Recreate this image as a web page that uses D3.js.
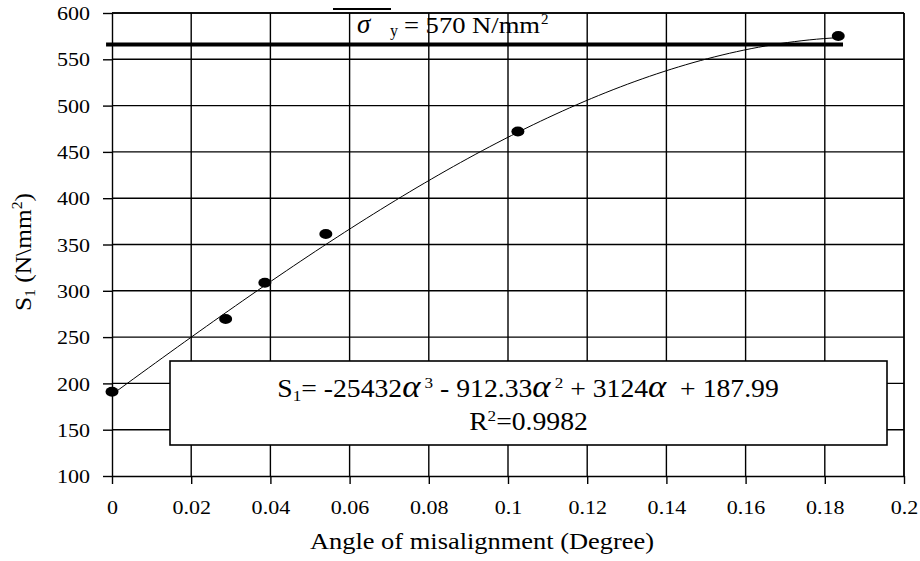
<!DOCTYPE html>
<html>
<head>
<meta charset="utf-8">
<script src="https://cdn.jsdelivr.net/npm/d3@7"></script>
<style>
  html, body { margin: 0; padding: 0; background: #fff; }
  svg { display: block; }
  text { font-family: "Liberation Serif", "Times New Roman", serif; fill: #000; }
</style>
</head>
<body>
<svg id="chart" width="920" height="561"></svg>
<script>
// ---- data ----
const angle  = [0, 0.0287, 0.0386, 0.054, 0.1025, 0.1834];
const stress = [191, 269.5, 308.7, 361.3, 472, 575.2];
// trendline coefficients c0 + c1*a + c2*a^2 + c3*a^3 (as printed on chart)
const trendCoef = [187.99, 3124, -912.33, -25432];
const xTicks = [0, 0.02, 0.04, 0.06, 0.08, 0.1, 0.12, 0.14, 0.16, 0.18, 0.2];
const xTickLabels = ["0", "0.02", "0.04", "0.06", "0.08", "0.1", "0.12", "0.14", "0.16", "0.18", "0.2"];
const yTicks = [100, 150, 200, 250, 300, 350, 400, 450, 500, 550, 600];
const yTickLabels = ["100", "150", "200", "250", "300", "350", "400", "450", "500", "550", "600"];
const yieldValue = 566;          // drawn position of yield line
const yieldExtent = [-0.0015, 0.1846];
const xTitle = "Angle of misalignment (Degree)";

// ---- layout ----
const L = 112, R = 904, T = 13, B = 476;
const svg = d3.select("#chart");
svg.append("rect").attr("width", 920).attr("height", 561).attr("fill", "#fff");

const x = d3.scaleLinear().domain([0, 0.2]).range([L, R]);
const y = d3.scaleLinear().domain([100, 600]).range([B, T]);

const SX = 1.13;
const TICK_FS = 19.5;

// gridlines
const grid = svg.append("g").attr("stroke", "#000").attr("stroke-width", 1.4);
grid.selectAll(".hg").data(yTicks.slice(1)).join("line")
  .attr("x1", L).attr("x2", R).attr("y1", d => y(d)).attr("y2", d => y(d));
grid.selectAll(".vg").data(xTicks.slice(1)).join("line")
  .attr("y1", T).attr("y2", B).attr("x1", d => x(d)).attr("x2", d => x(d));

// axes
const yAxis = svg.append("g").attr("transform", `translate(${L},0)`)
  .call(d3.axisLeft(y).tickValues(yTicks).tickSize(9).tickSizeOuter(0)
    .tickFormat((d, i) => yTickLabels[i]));
const xAxis = svg.append("g").attr("transform", `translate(0,${B})`)
  .call(d3.axisBottom(x).tickValues(xTicks).tickSize(8).tickSizeOuter(0)
    .tickFormat((d, i) => xTickLabels[i]));
[yAxis, xAxis].forEach(a => {
  a.selectAll("path,line").attr("stroke", "#000").attr("stroke-width", 1.4);
  a.selectAll("text").attr("font-family", "Liberation Serif, Times New Roman, serif")
    .attr("font-size", TICK_FS).attr("fill", "#000");
});
yAxis.selectAll(".tick text").attr("x", -22 / SX).attr("dy", "0.34em")
  .attr("transform", `scale(${SX},1)`);
xAxis.selectAll(".tick text").attr("y", 38).attr("dy", 0)
  .attr("transform", `scale(${SX},1)`);

// equation box
const box = { x0: 170, y0: 361, x1: 887, y1: 445 };
svg.append("rect").attr("x", box.x0).attr("y", box.y0)
  .attr("width", box.x1 - box.x0).attr("height", box.y1 - box.y0)
  .attr("fill", "#fff").attr("stroke", "#000").attr("stroke-width", 1.6);

// trendline
const poly = a => trendCoef.reduce((s, c, i) => s + c * Math.pow(a, i), 0);
const aMax = d3.max(angle);
const samples = d3.range(0, 101).map(i => aMax * i / 100);
svg.append("path")
  .attr("d", d3.line().x(a => x(a)).y(a => y(poly(a)))(samples))
  .attr("fill", "none").attr("stroke", "#000").attr("stroke-width", 1);

// yield line
svg.append("line")
  .attr("x1", x(yieldExtent[0])).attr("x2", x(yieldExtent[1]))
  .attr("y1", y(yieldValue)).attr("y2", y(yieldValue))
  .attr("stroke", "#000").attr("stroke-width", 4);

// data points
svg.selectAll(".pt").data(angle).join("ellipse")
  .attr("cx", (d, i) => x(d)).attr("cy", (d, i) => y(stress[i]))
  .attr("rx", 6.5).attr("ry", 5).attr("fill", "#000");

// top & right border
svg.append("line").attr("x1", L).attr("x2", R).attr("y1", T).attr("y2", T)
  .attr("stroke", "#000").attr("stroke-width", 1.4);
svg.append("line").attr("x1", R).attr("x2", R).attr("y1", T).attr("y2", B)
  .attr("stroke", "#000").attr("stroke-width", 1.4);

// sigma label
svg.append("line").attr("x1", 333).attr("x2", 391).attr("y1", 9).attr("y2", 9)
  .attr("stroke", "#000").attr("stroke-width", 2);
svg.append("text").attr("x", 357).attr("y", 33).attr("font-size", 27)
  .attr("font-style", "italic").text("σ");
svg.append("text").attr("x", 390).attr("y", 36).attr("font-size", 16).text("y");
svg.append("text").attr("x", 404).attr("y", 33).attr("font-size", 23.5)
  .attr("textLength", 136).attr("lengthAdjust", "spacingAndGlyphs").text("= 570 N/mm");
svg.append("text").attr("x", 541).attr("y", 24).attr("font-size", 15).text("2");

// helper for tspan runs
function runs(textSel, parts, fs) {
  parts.forEach(p => {
    const t = textSel.append("tspan").text(p.t);
    if (p.sub) t.attr("font-size", fs * 0.62).attr("dy", fs * 0.18);
    else if (p.sup) t.attr("font-size", fs * 0.62).attr("dy", -fs * 0.38);
    else if (p.alpha) t.attr("font-size", fs * 1.25).attr("font-style", "italic");
    if (p.reset) t.attr("dy", p.reset);
  });
}

// equation text
const fs = 24.5;
const eqG1 = svg.append("g").attr("transform", `translate(528,397) scale(${SX},1)`);
const eq1 = eqG1.append("text").attr("text-anchor", "middle").attr("font-size", fs)
  .attr("xml:space", "preserve").style("white-space", "pre");
runs(eq1, [
  { t: "S" }, { t: "1", sub: true },
  { t: "= -25432", reset: -fs * 0.18 }, { t: "α", alpha: true },
  { t: " 3", sup: true }, { t: " - 912.33", reset: fs * 0.38 }, { t: "α", alpha: true },
  { t: " 2", sup: true }, { t: " + 3124", reset: fs * 0.38 }, { t: "α", alpha: true },
  { t: "  + 187.99" }
], fs);
const eqG2 = svg.append("g").attr("transform", `translate(528.5,430) scale(${SX},1)`);
const eq2 = eqG2.append("text").attr("text-anchor", "middle").attr("font-size", fs);
runs(eq2, [{ t: "R" }, { t: "2", sup: true }, { t: "=0.9982", reset: fs * 0.38 }], fs);

// axis titles
svg.append("g").attr("transform", `translate(482,549) scale(${SX},1)`)
  .append("text").attr("text-anchor", "middle").attr("font-size", 23.4).text(xTitle);
const yfs = 22.5;
const yt = svg.append("g").attr("transform", `translate(31,252) rotate(-90) scale(${SX},1)`)
  .append("text").attr("text-anchor", "middle").attr("font-size", yfs)
  .attr("xml:space", "preserve").style("white-space", "pre");
runs(yt, [{ t: "S" }, { t: "1", sub: true }, { t: " (N\\mm", reset: -yfs * 0.18 },
  { t: "2", sup: true }, { t: ")", reset: yfs * 0.38 }], yfs);
</script>
</body>
</html>
